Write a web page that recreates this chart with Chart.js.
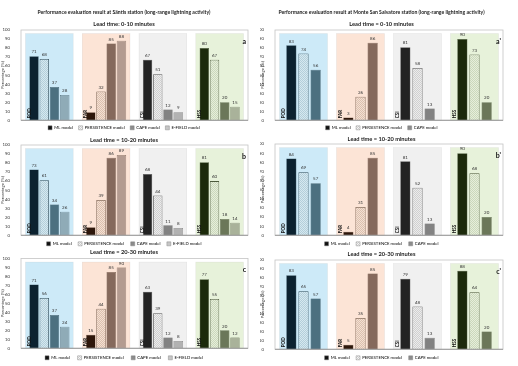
<!DOCTYPE html>
<html>
<head>
<meta charset="utf-8">
<script src="https://cdn.jsdelivr.net/npm/chart.js@4.4.1/dist/chart.umd.min.js"></script>
<style>
  body { margin: 0; background: #fff; width: 518px; height: 366px; position: relative; overflow: hidden; }
  canvas { position: absolute; }
</style>
</head>
<body>
<canvas id="sa" width="256" height="135"></canvas>
<canvas id="sb" width="256" height="120"></canvas>
<canvas id="sc" width="256" height="124"></canvas>
<canvas id="ma" width="258" height="135"></canvas>
<canvas id="mb" width="258" height="120"></canvas>
<canvas id="mc" width="258" height="124"></canvas>
<script>
// --- Data ---
const categories = ["POD", "FAR", "CSI", "HSS"];
const santisModels = ["ML model", "PERSISTENCE model", "CAPE model", "E-FIELD model"];
const salvatoreModels = ["ML model", "PERSISTENCE model", "CAPE model"];

// one row per model, values for POD, FAR, CSI, HSS (%)
const santis0to10 = [[71, 9, 67, 80], [68, 32, 51, 67], [37, 85, 12, 20], [28, 88, 9, 15]];
const santis10to20 = [[73, 9, 68, 81], [61, 39, 44, 60], [34, 86, 11, 18], [26, 89, 8, 14]];
const santis20to30 = [[71, 15, 63, 77], [56, 44, 39, 55], [37, 85, 12, 20], [24, 90, 8, 12]];
const salvatore0to10 = [[83, 3, 81, 90], [74, 26, 58, 73], [56, 86, 13, 20]];
const salvatore10to20 = [[84, 4, 81, 90], [69, 31, 52, 68], [57, 85, 13, 20]];
const salvatore20to30 = [[83, 5, 79, 88], [65, 35, 48, 64], [57, 85, 13, 20]];

const FONT = "Lato, 'Open Sans', sans-serif";

// small checker texture for the persistence bars
function hatch(base, dot) {
  const c = document.createElement("canvas");
  c.width = 2; c.height = 2;
  const x = c.getContext("2d");
  x.fillStyle = base; x.fillRect(0, 0, 2, 2);
  x.fillStyle = dot; x.fillRect(0, 0, 1, 1); x.fillRect(1, 1, 1, 1);
  return x.createPattern(c, "repeat");
}

// colours per category (POD, FAR, CSI, HSS), then per model
const barColors = [
  ["#0c2230", hatch("#d6e8ef", "#b3cfdb"), "#4c7080", "#8fabb7"],
  ["#2e170b", hatch("#f3e0d3", "#dcc0ae"), "#85695c", "#b39b90"],
  ["#232323", hatch("#ececec", "#d0d0d0"), "#828282", "#b2b2b2"],
  ["#1c2a0b", hatch("#e6eedb", "#cbd8bb"), "#6b7759", "#a9b29a"]
];
const edgeColors = ["#35505c", "#6a5040", "#5a5a5a", "#4d5a3c"];
const panelBg = ["#cdeaf8", "#fce4d6", "#f0f0f0", "#e7f2da"];
const legendFill = ["#111111", hatch("#f6f6f6", "#cfcfcf"), "#8c8c8c", "#c6c6c6"];

// --- Panels ---
const panels = [
  { id: "sa", left: 0, top: 0, main: "Performance evaluation result at Säntis station (long-range lightning activity)",
    lead: "Lead time: 0-10 minutes", letter: "a", models: santisModels, values: santis0to10,
    leadY: 24, chartTop: 30, chartBottom: 119, legendY: 127 },
  { id: "sb", left: 0, top: 130, lead: "Lead time = 10-20 minutes", letter: "b", models: santisModels, values: santis10to20,
    leadY: 140, chartTop: 145, chartBottom: 234, legendY: 243 },
  { id: "sc", left: 0, top: 243, lead: "Lead time = 20-30 minutes", letter: "c", models: santisModels, values: santis20to30,
    leadY: 252.5, chartTop: 258.5, chartBottom: 347, legendY: 357 },
  { id: "ma", left: 260, top: 0, main: "Performance evaluation result at Monte San Salvatore station (long-range lightning activity)",
    lead: "Lead time = 0-10 minutes", letter: "a'", models: salvatoreModels, values: salvatore0to10,
    leadY: 24, chartTop: 30, chartBottom: 119, legendY: 127 },
  { id: "mb", left: 260, top: 130, lead: "Lead time = 10-20 minutes", letter: "b'", models: salvatoreModels, values: salvatore10to20,
    leadY: 139, chartTop: 144, chartBottom: 234, legendY: 243 },
  { id: "mc", left: 260, top: 243, lead: "Lead time = 20-30 minutes", letter: "c'", models: salvatoreModels, values: salvatore20to30,
    leadY: 254, chartTop: 260, chartBottom: 348, legendY: 357 }
];

// backgrounds, frame, category names, value labels and panel letter
const decorPlugin = {
  id: "decor",
  beforeDatasetsDraw(chart) {
    const { ctx, chartArea, scales } = chart;
    const xs = scales.x, ys = scales.y;
    const w = (chartArea.right - chartArea.left) / categories.length * 0.84;
    ctx.save();
    categories.forEach((c, i) => {
      const cx = xs.getPixelForValue(i);
      const top = ys.getPixelForValue(96);
      ctx.fillStyle = panelBg[i];
      ctx.fillRect(cx - w / 2, top, w, chartArea.bottom - top);
      ctx.strokeStyle = "rgba(0,0,0,0.08)";
      ctx.lineWidth = 0.6;
      ctx.strokeRect(cx - w / 2, top, w, chartArea.bottom - top);
    });
    ctx.restore();
  },
  afterDatasetsDraw(chart) {
    const { ctx, chartArea, scales } = chart;
    const xs = scales.x;
    const w = (chartArea.right - chartArea.left) / categories.length * 0.84;
    ctx.save();
    // value labels
    ctx.font = "4.5px " + FONT;
    ctx.fillStyle = "#333";
    ctx.textAlign = "center";
    ctx.textBaseline = "bottom";
    chart.data.datasets.forEach((ds, di) => {
      chart.getDatasetMeta(di).data.forEach((bar, i) => {
        ctx.fillText(ds.data[i], bar.x, bar.y - 2);
      });
    });
    // category names, rotated
    ctx.font = "bold 4.6px " + FONT;
    ctx.fillStyle = "#111";
    ctx.textAlign = "left";
    ctx.textBaseline = "middle";
    categories.forEach((c, i) => {
      const x = xs.getPixelForValue(i) - w / 2 + 3.5;
      ctx.save();
      ctx.translate(x, chartArea.bottom - 2);
      ctx.rotate(-Math.PI / 2);
      ctx.fillText(c, 0, 0);
      ctx.restore();
    });
    // frame
    ctx.strokeStyle = "#c4c4c4";
    ctx.lineWidth = 0.8;
    ctx.strokeRect(chartArea.left, chartArea.top, chartArea.right - chartArea.left, chartArea.bottom - chartArea.top);
    ctx.strokeStyle = "#888";
    ctx.beginPath();
    ctx.moveTo(chartArea.left, chartArea.bottom);
    ctx.lineTo(chartArea.right, chartArea.bottom);
    ctx.stroke();
    // panel letter
    ctx.font = "bold 7px " + FONT;
    ctx.fillStyle = "#111";
    ctx.textAlign = "right";
    ctx.textBaseline = "top";
    ctx.fillText(chart.options.plugins.decor.letter, chartArea.right - 2, chartArea.top + 8);
    ctx.restore();
  }
};

panels.forEach(p => {
  const canvas = document.getElementById(p.id);
  canvas.style.left = p.left + "px";
  canvas.style.top = p.top + "px";
  const four = p.models.length === 4;

  const datasets = p.models.map((m, j) => ({
    label: m,
    data: p.values[j],
    backgroundColor: categories.map((c, i) => barColors[i][j]),
    borderColor: categories.map((c, i) => edgeColors[i]),
    borderWidth: j === 1 ? 0.8 : 0.5,
    categoryPercentage: four ? 0.72 : 0.64,
    barPercentage: four ? 0.92 : 0.84
  }));

  // title / subtitle paddings so the plot lands where the reference has it
  const mainSize = 5.1, leadSize = 5.7;
  const mainH = mainSize * 1.2, leadH = leadSize * 1.2;
  let titleOpts, subOpts, y0;
  if (p.main) {
    titleOpts = { display: true, text: p.main, color: "#222", font: { family: FONT, size: mainSize, weight: "bold" },
      padding: { top: 12.5 - mainH / 2, bottom: 4 } };
    y0 = p.top + 12.5 + mainH / 2 + 4;
    subOpts = { display: true, text: p.lead, color: "#222", font: { family: FONT, size: leadSize, weight: "bold" },
      padding: { top: p.leadY - leadH / 2 - y0, bottom: p.chartTop - (p.leadY + leadH / 2) } };
  } else {
    y0 = p.top;
    titleOpts = { display: true, text: p.lead, color: "#222", font: { family: FONT, size: leadSize, weight: "bold" },
      padding: { top: p.leadY - leadH / 2 - y0, bottom: p.chartTop - (p.leadY + leadH / 2) } };
    subOpts = { display: false };
  }
  // legend box = padding + item height + 10 (Chart.js adds a fixed 10)
  const itemH = 4.3 * 1.2;
  const legPad = p.legendY - p.chartBottom - itemH / 2;
  canvas.height = Math.round(p.chartBottom - p.top + legPad + itemH + 10);

  new Chart(canvas.getContext("2d"), {
    type: "bar",
    data: { labels: categories, datasets: datasets },
    plugins: [decorPlugin],
    options: {
      responsive: false,
      animation: false,
      layout: { padding: { left: 0, right: four ? 8 : 15, top: 0, bottom: 0 } },
      scales: {
        x: { display: false },
        y: {
          min: 0, max: 100,
          ticks: { stepSize: 10, color: "#333", font: { family: FONT, size: 4.3 }, padding: 3 },
          grid: { display: false },
          border: { display: false },
          title: { display: true, text: "Percentage (%)", color: "#333", font: { family: FONT, size: 4.3 }, padding: 0 },
          afterFit(scale) { scale.width = four ? 21 : 15; }
        }
      },
      plugins: {
        title: titleOpts,
        subtitle: subOpts,
        tooltip: { enabled: false },
        decor: { letter: p.letter },
        legend: {
          position: "bottom",
          labels: {
            color: "#333",
            font: { family: FONT, size: 4.3 },
            boxWidth: 4, boxHeight: 4,
            padding: legPad,
            generateLabels: chart => p.models.map((m, j) => ({
              text: m, fillStyle: legendFill[j], strokeStyle: "#777", lineWidth: 0.4, datasetIndex: j
            }))
          }
        }
      }
    }
  });
});
</script>
</body>
</html>
